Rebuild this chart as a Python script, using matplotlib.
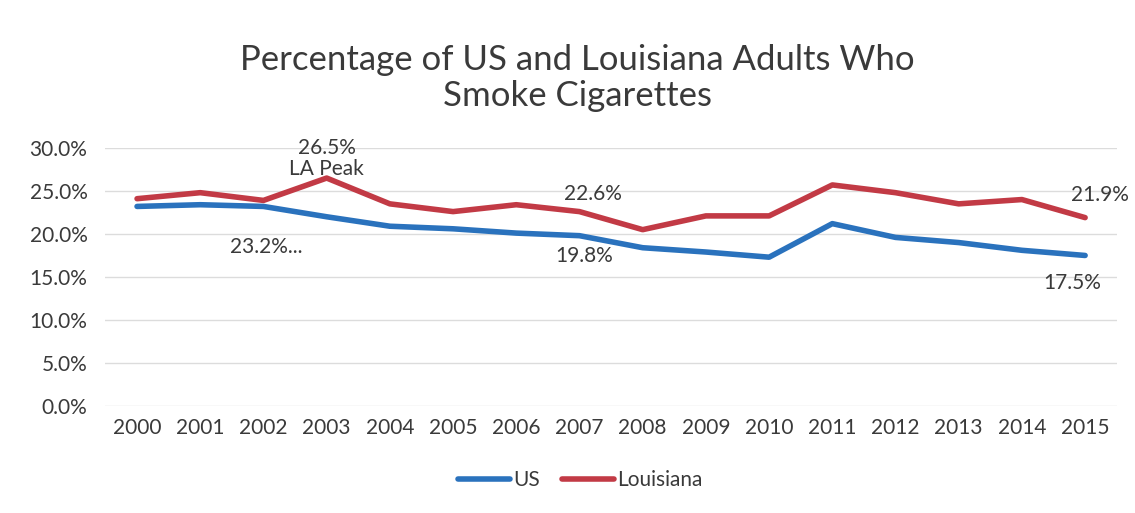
import matplotlib.pyplot as plt
import numpy as np

plt.rcParams["font.family"] = ["Lato", "DejaVu Sans"]

years = [str(y) for y in range(2000, 2016)]
us = [23.2, 23.4, 23.2, 22.0, 20.9, 20.6, 20.1, 19.8, 18.4, 17.9, 17.3, 21.2, 19.6, 19.0, 18.1, 17.5]
louisiana = [24.1, 24.8, 23.9, 26.5, 23.5, 22.6, 23.4, 22.6, 20.5, 22.1, 22.1, 25.7, 24.8, 23.5, 24.0, 21.9]
yticks = [0, 5, 10, 15, 20, 25, 30]

# data labels: (series, index, text, x offset pt, y offset pt)
labels = [
    (us, 2, "23.2%...", 2, -29),
    (louisiana, 3, "26.5%\nLA Peak", 0, 14),
    (louisiana, 7, "22.6%", 10, 13),
    (us, 7, "19.8%", 3, -14.5),
    (louisiana, 15, "21.9%", 11, 16.5),
    (us, 15, "17.5%", -9, -19.5),
]

BLUE = "#2a72bd"
RED = "#c23a45"
TXT = "#3a3a3a"

fig = plt.figure(figsize=(11.35, 5.13), dpi=100)
ax = fig.add_axes([0.0929, 0.2086, 0.891, 0.503])

x = np.arange(len(years))
ax.plot(x, us, color=BLUE, lw=4, label="US", solid_capstyle="round")
ax.plot(x, louisiana, color=RED, lw=4, label="Louisiana", solid_capstyle="round")

for series, i, text, dx, dy in labels:
    ax.annotate(text, (x[i], series[i]), xytext=(dx, dy), textcoords="offset points",
                ha="center", va="center", fontsize=15, color=TXT, linespacing=1.1)

ax.set_xlim(-0.5, len(years) - 0.5)
ax.set_ylim(0, 30)
ax.set_xticks(x)
ax.set_xticklabels(years)
ax.set_yticks(yticks)
ax.set_yticklabels([f"{v:.1f}%" for v in yticks])
ax.tick_params(length=0, labelsize=15, colors=TXT)
ax.tick_params(axis="y", pad=13)
ax.tick_params(axis="x", pad=9)
ax.grid(axis="y", color="#dcdcdc", lw=1)
ax.set_axisbelow(True)
for s in ax.spines.values():
    s.set_visible(False)

fig.text(0.509, 0.848, "Percentage of US and Louisiana Adults Who\nSmoke Cigarettes",
         ha="center", va="center", fontsize=25, color=TXT, linespacing=1.12)

fig.legend(loc="center", bbox_to_anchor=(0.511, 0.064), ncol=2, frameon=False,
           fontsize=15, handlelength=2.5, columnspacing=1.05, handletextpad=0.15,
           labelcolor=TXT)

fig.savefig("out.png", dpi=100)
